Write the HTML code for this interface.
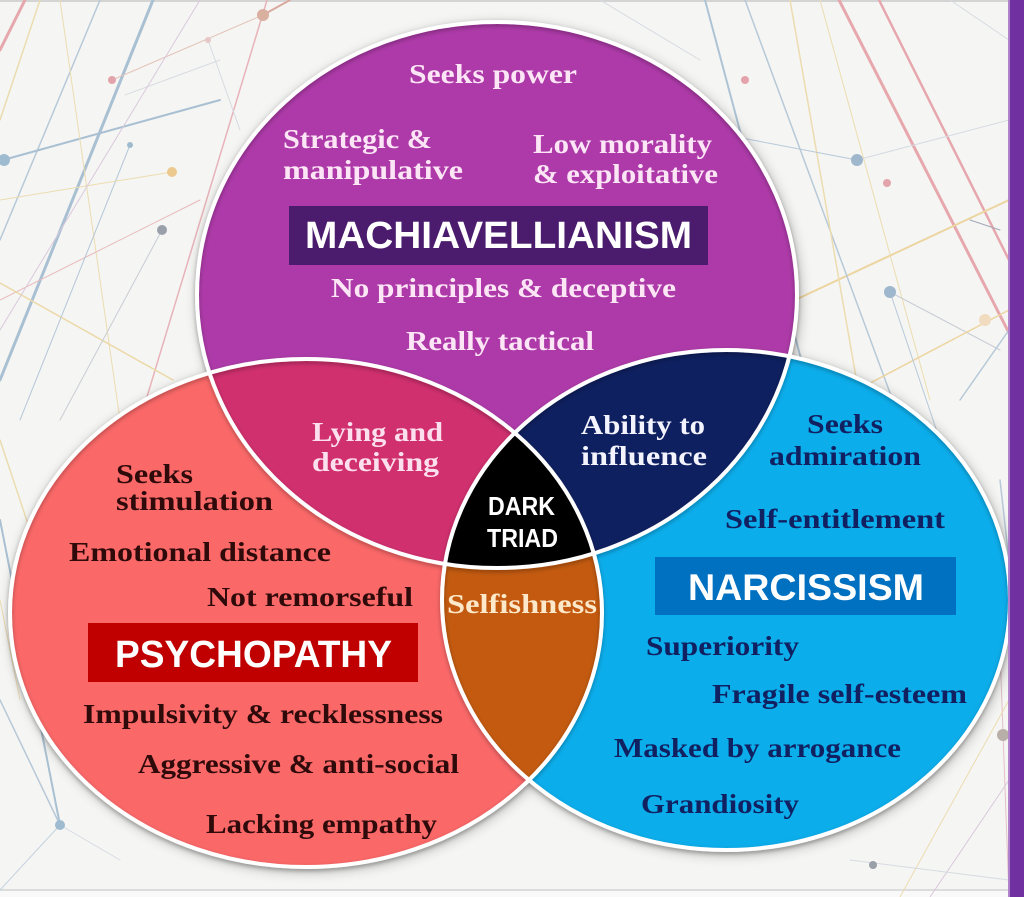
<!DOCTYPE html>
<html><head><meta charset="utf-8">
<style>
html,body{margin:0;padding:0;background:#f5f5f3;}
svg{display:block;}
.s{font-family:"Liberation Serif",serif;font-weight:bold;font-size:27.5px;}
.k{font-family:"Liberation Sans",sans-serif;font-weight:bold;}
</style></head>
<body>
<svg width="1024" height="897" viewBox="0 0 1024 897" xmlns="http://www.w3.org/2000/svg">
<defs>
  <clipPath id="cT"><ellipse cx="497" cy="295" rx="300" ry="273"/></clipPath>
  <clipPath id="cL"><ellipse cx="306" cy="613" rx="296" ry="254"/></clipPath>
  <clipPath id="cR"><ellipse cx="726" cy="600" rx="284" ry="250"/></clipPath>
  <filter id="sh" x="-20%" y="-20%" width="140%" height="140%">
    <feGaussianBlur stdDeviation="7"/>
  </filter>
  <filter id="ls" x="-10%" y="-10%" width="120%" height="120%">
    <feDropShadow dx="0" dy="2" stdDeviation="2" flood-color="#000" flood-opacity="0.3"/>
  </filter>
</defs>

<!-- background -->
<rect x="0" y="0" width="1024" height="897" fill="#f5f5f3"/>
<rect x="0" y="0" width="1024" height="2" fill="#d4d4d4"/>
<rect x="0" y="889" width="1024" height="2" fill="#dcdcdc"/>
<rect x="0" y="891" width="1024" height="6" fill="#f9f9f9"/>

<g fill="none" stroke-linecap="round">
  <line x1="153" y1="0" x2="0" y2="380" stroke="#a9c0d3" stroke-width="3"/>
  <line x1="100" y1="0" x2="0" y2="240" stroke="#b7c9d8" stroke-width="1.5"/>
  <line x1="25" y1="0" x2="0" y2="50" stroke="#e6a7ad" stroke-width="3"/>
  <line x1="3" y1="160" x2="220" y2="100" stroke="#a9c0d3" stroke-width="2"/>
  <line x1="267" y1="0" x2="140" y2="420" stroke="#e8b3b8" stroke-width="1.5"/>
  <line x1="60" y1="0" x2="120" y2="420" stroke="#ecdcb0" stroke-width="1"/>
  <line x1="0" y1="300" x2="200" y2="200" stroke="#e8b9bd" stroke-width="1"/>
  <line x1="0" y1="283" x2="173" y2="380" stroke="#ecd9a8" stroke-width="1.5"/>
  <line x1="130" y1="145" x2="20" y2="420" stroke="#b4c6d6" stroke-width="1"/>
  <line x1="172" y1="172" x2="0" y2="200" stroke="#ecdcb0" stroke-width="1"/>
  <line x1="263" y1="15" x2="112" y2="80" stroke="#e4c2b8" stroke-width="1"/>
  <line x1="263" y1="15" x2="290" y2="0" stroke="#dba99f" stroke-width="2"/>
  <line x1="208" y1="40" x2="240" y2="130" stroke="#d6dbe2" stroke-width="1"/>
  <line x1="125" y1="95" x2="220" y2="60" stroke="#d6dbe2" stroke-width="1"/>
  <line x1="162" y1="230" x2="60" y2="420" stroke="#c8ccd4" stroke-width="1"/>
  <line x1="40" y1="0" x2="0" y2="120" stroke="#ecdcb0" stroke-width="1.5"/>
  <line x1="200" y1="0" x2="0" y2="330" stroke="#d9c9dc" stroke-width="1"/>
  <line x1="0" y1="520" x2="60" y2="825" stroke="#a9c0d3" stroke-width="2"/>
  <line x1="0" y1="700" x2="60" y2="825" stroke="#b7c9d8" stroke-width="1.5"/>
  <line x1="0" y1="890" x2="60" y2="825" stroke="#c4d2de" stroke-width="1"/>
  <line x1="0" y1="440" x2="40" y2="560" stroke="#ecdcb0" stroke-width="1.5"/>
  <line x1="0" y1="600" x2="20" y2="700" stroke="#ecdcb0" stroke-width="1"/>
  <line x1="60" y1="825" x2="120" y2="860" stroke="#d6dbe2" stroke-width="1"/>

  <line x1="839" y1="0" x2="1009" y2="333" stroke="#e6a7ad" stroke-width="3"/>
  <line x1="879" y1="0" x2="1009" y2="260" stroke="#e6a7ad" stroke-width="2.5"/>
  <line x1="795" y1="300" x2="1009" y2="200" stroke="#ecd5a0" stroke-width="2"/>
  <line x1="705" y1="0" x2="812" y2="400" stroke="#aec3d4" stroke-width="2"/>
  <line x1="745" y1="0" x2="900" y2="420" stroke="#b7c9d8" stroke-width="1.5"/>
  <line x1="790" y1="0" x2="860" y2="400" stroke="#ecdcb0" stroke-width="1.5"/>
  <line x1="820" y1="0" x2="930" y2="400" stroke="#ecdcb0" stroke-width="1"/>
  <line x1="857" y1="160" x2="1009" y2="120" stroke="#d6dbe2" stroke-width="1"/>
  <line x1="857" y1="160" x2="700" y2="130" stroke="#b7c9d8" stroke-width="1"/>
  <line x1="890" y1="292" x2="1000" y2="350" stroke="#c8ccd4" stroke-width="1"/>
  <line x1="800" y1="420" x2="1009" y2="310" stroke="#ecd5a0" stroke-width="1.5"/>
  <line x1="890" y1="292" x2="960" y2="500" stroke="#b7c9d8" stroke-width="1"/>
  <line x1="950" y1="0" x2="1009" y2="40" stroke="#d6dbe2" stroke-width="1"/>
  <line x1="960" y1="400" x2="1009" y2="330" stroke="#b7c9d8" stroke-width="1.5"/>
  <line x1="970" y1="220" x2="1000" y2="230" stroke="#a0a8b8" stroke-width="1"/>
  <line x1="1000" y1="480" x2="1009" y2="560" stroke="#b7c9d8" stroke-width="1.5"/>
  <line x1="1000" y1="650" x2="1009" y2="897" stroke="#e3c0c8" stroke-width="1"/>
  <line x1="900" y1="897" x2="1009" y2="700" stroke="#ecdcb0" stroke-width="1"/>
  <line x1="930" y1="897" x2="1009" y2="780" stroke="#d9c9dc" stroke-width="1"/>
  <line x1="850" y1="860" x2="1009" y2="880" stroke="#d6dbe2" stroke-width="1"/>
  <line x1="600" y1="0" x2="700" y2="60" stroke="#d6dbe2" stroke-width="1"/>
</g>
<g>
  <circle cx="263" cy="15" r="6" fill="#d9b0a0"/>
  <circle cx="112" cy="80" r="4" fill="#e3a3aa"/>
  <circle cx="172" cy="172" r="5" fill="#ecc98e"/>
  <circle cx="162" cy="230" r="5" fill="#9aa0aa"/>
  <circle cx="4" cy="160" r="6" fill="#9fbbd0"/>
  <circle cx="130" cy="145" r="3" fill="#9fbbd0"/>
  <circle cx="208" cy="40" r="3" fill="#e6c6c6"/>
  <circle cx="857" cy="160" r="6" fill="#9fb7cc"/>
  <circle cx="887" cy="183" r="4" fill="#e3a3aa"/>
  <circle cx="890" cy="292" r="6" fill="#9fb7cc"/>
  <circle cx="745" cy="80" r="4" fill="#e3a3aa"/>
  <circle cx="985" cy="320" r="6" fill="#f2dcc0"/>
  <circle cx="60" cy="825" r="5" fill="#9fbbd0"/>
  <circle cx="873" cy="865" r="4" fill="#9aa0aa"/>
  <circle cx="1003" cy="735" r="6" fill="#b8b0a8"/>
</g>

<!-- shadows -->
<g filter="url(#sh)" fill="#000" opacity="0.32" transform="translate(2,3)">
  <ellipse cx="497" cy="295" rx="300" ry="273"/>
  <ellipse cx="306" cy="613" rx="296" ry="254"/>
  <ellipse cx="726" cy="600" rx="284" ry="250"/>
</g>

<!-- base fills -->
<ellipse cx="497" cy="295" rx="300" ry="273" fill="#ad3aa8"/>
<ellipse cx="306" cy="613" rx="296" ry="254" fill="#fa6868"/>
<ellipse cx="726" cy="600" rx="284" ry="250" fill="#0cadeb"/>

<!-- intersections -->
<g clip-path="url(#cT)"><ellipse cx="306" cy="613" rx="296" ry="254" fill="#d0306e"/></g>
<g clip-path="url(#cT)"><ellipse cx="726" cy="600" rx="284" ry="250" fill="#0f2060"/></g>
<g clip-path="url(#cL)"><ellipse cx="726" cy="600" rx="284" ry="250" fill="#c35a10"/></g>
<g clip-path="url(#cT)"><g clip-path="url(#cL)"><ellipse cx="726" cy="600" rx="284" ry="250" fill="#000"/></g></g>

<!-- white borders -->
<g fill="none" stroke="#ffffff" stroke-width="4" filter="url(#ls)">
  <ellipse cx="497" cy="295" rx="300" ry="273"/>
  <ellipse cx="306" cy="613" rx="296" ry="254"/>
  <ellipse cx="726" cy="600" rx="284" ry="250"/>
</g>

<!-- label boxes -->
<rect x="289" y="206" width="419" height="59" fill="#4b1c6e"/>
<text class="k" x="305" y="248" font-size="38" fill="#ffffff" textLength="387" lengthAdjust="spacingAndGlyphs">MACHIAVELLIANISM</text>
<rect x="88" y="623" width="330" height="59" fill="#c00000"/>
<text class="k" x="115" y="667" font-size="38" fill="#ffffff" textLength="277" lengthAdjust="spacingAndGlyphs">PSYCHOPATHY</text>
<rect x="655" y="557" width="301" height="58" fill="#0070c0"/>
<text class="k" x="688" y="600" font-size="37" fill="#ffffff" textLength="236" lengthAdjust="spacingAndGlyphs">NARCISSISM</text>

<text class="k" x="488" y="515" font-size="26" fill="#ffffff" textLength="67" lengthAdjust="spacingAndGlyphs">DARK</text>
<text class="k" x="487" y="547" font-size="26" fill="#ffffff" textLength="71" lengthAdjust="spacingAndGlyphs">TRIAD</text>

<!-- top circle text -->
<g class="s" fill="#fce6f6">
  <text x="409" y="83" textLength="168" lengthAdjust="spacingAndGlyphs">Seeks power</text>
  <text x="283" y="148" textLength="149" lengthAdjust="spacingAndGlyphs">Strategic &amp;</text>
  <text x="283" y="179" textLength="180" lengthAdjust="spacingAndGlyphs">manipulative</text>
  <text x="533" y="153" textLength="179" lengthAdjust="spacingAndGlyphs">Low morality</text>
  <text x="533" y="183" textLength="185" lengthAdjust="spacingAndGlyphs">&amp; exploitative</text>
  <text x="331" y="297" textLength="345" lengthAdjust="spacingAndGlyphs">No principles &amp; deceptive</text>
  <text x="406" y="350" textLength="188" lengthAdjust="spacingAndGlyphs">Really tactical</text>
</g>

<!-- intersections text -->
<g class="s">
  <text x="312" y="441" fill="#fce0ee" textLength="131" lengthAdjust="spacingAndGlyphs">Lying and</text>
  <text x="312" y="471" fill="#fce0ee" textLength="127" lengthAdjust="spacingAndGlyphs">deceiving</text>
  <text x="581" y="434" fill="#f4f4ff" textLength="124" lengthAdjust="spacingAndGlyphs">Ability to</text>
  <text x="581" y="465" fill="#f4f4ff" textLength="126" lengthAdjust="spacingAndGlyphs">influence</text>
  <text x="447" y="613" fill="#fde9c9" textLength="150" lengthAdjust="spacingAndGlyphs">Selfishness</text>
</g>

<!-- left circle text -->
<g class="s" fill="#2e0a0a">
  <text x="116" y="483" textLength="77" lengthAdjust="spacingAndGlyphs">Seeks</text>
  <text x="116" y="510" textLength="157" lengthAdjust="spacingAndGlyphs">stimulation</text>
  <text x="69" y="561" textLength="262" lengthAdjust="spacingAndGlyphs">Emotional distance</text>
  <text x="207" y="606" textLength="206" lengthAdjust="spacingAndGlyphs">Not remorseful</text>
  <text x="83" y="723" textLength="360" lengthAdjust="spacingAndGlyphs">Impulsivity &amp; recklessness</text>
  <text x="138" y="773" textLength="321" lengthAdjust="spacingAndGlyphs">Aggressive &amp; anti-social</text>
  <text x="206" y="833" textLength="231" lengthAdjust="spacingAndGlyphs">Lacking empathy</text>
</g>

<!-- right circle text -->
<g class="s" fill="#102060">
  <text x="807" y="433" textLength="76" lengthAdjust="spacingAndGlyphs">Seeks</text>
  <text x="769" y="465" textLength="152" lengthAdjust="spacingAndGlyphs">admiration</text>
  <text x="725" y="528" textLength="220" lengthAdjust="spacingAndGlyphs">Self-entitlement</text>
  <text x="646" y="655" textLength="153" lengthAdjust="spacingAndGlyphs">Superiority</text>
  <text x="712" y="703" textLength="255" lengthAdjust="spacingAndGlyphs">Fragile self-esteem</text>
  <text x="614" y="757" textLength="287" lengthAdjust="spacingAndGlyphs">Masked by arrogance</text>
  <text x="641" y="813" textLength="158" lengthAdjust="spacingAndGlyphs">Grandiosity</text>
</g>

<!-- right purple bar -->
<rect x="1008" y="0" width="16" height="897" fill="#7030a0"/>
<rect x="1008" y="0" width="2" height="897" fill="#d9b8e6" opacity="0.6"/>
</svg>
</body></html>
